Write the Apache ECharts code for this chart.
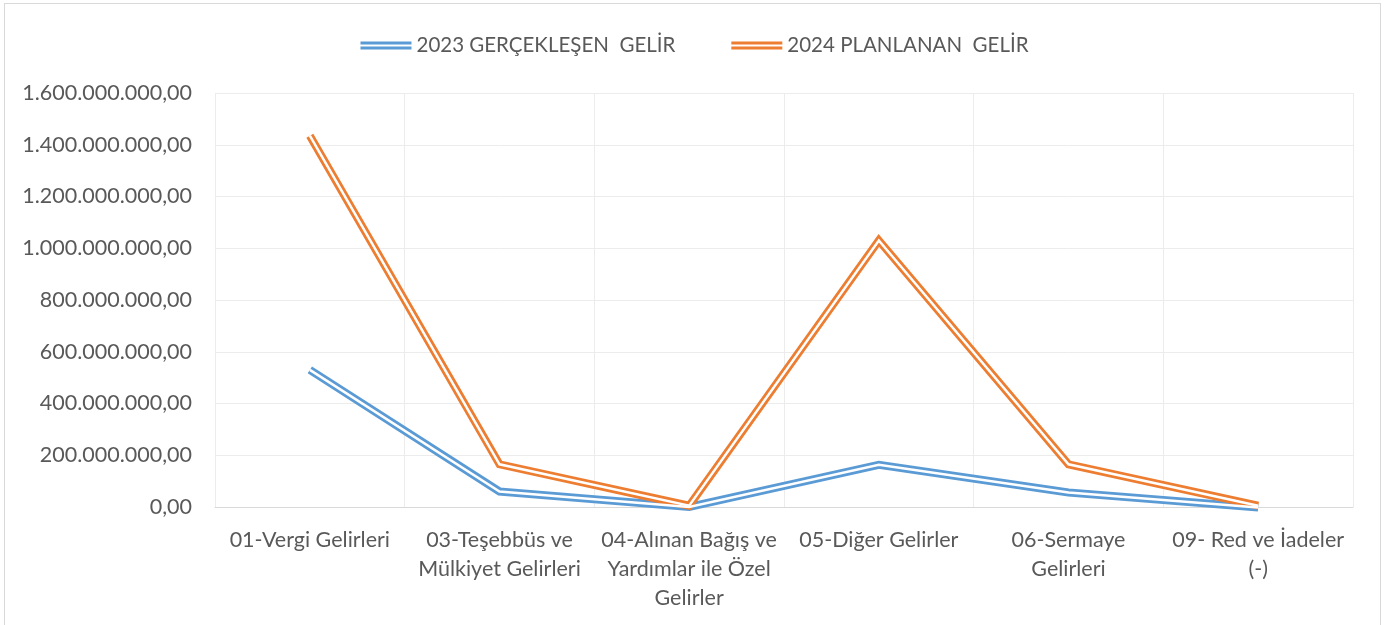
<!DOCTYPE html>
<html>
<head>
<meta charset="utf-8">
<script src="https://cdn.jsdelivr.net/npm/echarts@6/dist/echarts.min.js"></script>
<style>
  html, body { margin: 0; padding: 0; background: #fff; }
  #frame { position: absolute; left: 4px; top: 3px; width: 1377px; height: 640px; border: 1px solid #d9d9d9; box-sizing: border-box; }
  #chart { position: absolute; left: 0; top: 0; width: 1389px; height: 625px; }
</style>
</head>
<body>
<div id="frame"></div>
<div id="chart"></div>
<script>
// categories and the wrapped labels shown under the axis
const categories = [
  '01-Vergi Gelirleri',
  '03-Teşebbüs ve Mülkiyet Gelirleri',
  '04-Alınan Bağış ve Yardımlar ile Özel Gelirler',
  '05-Diğer Gelirler',
  '06-Sermaye Gelirleri',
  '09- Red ve İadeler (-)'
];
const xLabels = [
  '01-Vergi Gelirleri',
  '03-Teşebbüs ve\nMülkiyet Gelirleri',
  '04-Alınan Bağış ve\nYardımlar ile Özel\nGelirler',
  '05-Diğer Gelirler',
  '06-Sermaye\nGelirleri',
  '09- Red ve İadeler\n(-)'
];
const seriesNames = ['2023 GERÇEKLEŞEN  GELİR', '2024 PLANLANAN  GELİR'];
const gelir2023 = [530000000, 60000000, 0, 163000000, 56000000, -2000000];
const gelir2024 = [1435000000, 165000000, 5000000, 1030000000, 165000000, 5000000];
const colors = ['#5b9bd5', '#ed7d31'];

// 1.600.000.000,00 style
function trNumber(v) {
  const s = Math.round(Math.abs(v)).toString().replace(/\B(?=(\d{3})+(?!\d))/g, '.');
  return (v < 0 ? '-' : '') + s + ',00';
}

const font = 'Lato, "Open Sans", sans-serif';
const chart = echarts.init(document.getElementById('chart'));

// excel "double" line: thick coloured line with a thin white line on top
function doubleLine(name, data, color) {
  return [
    {
      name: name,
      type: 'line',
      data: data,
      color: color,
      symbol: 'none',
      clip: false,
      lineStyle: { width: 8, color: color, join: 'miter' },
      z: 2
    },
    {
      name: name + '_inner',
      type: 'line',
      data: data,
      symbol: 'none',
      clip: false,
      silent: true,
      lineStyle: { width: 2.5, color: '#ffffff', join: 'miter' },
      z: 3
    }
  ];
}

let option = {
  animation: false,
  textStyle: { fontFamily: font },
  legend: {
    data: seriesNames,
    top: 30,
    left: 'center',
    itemWidth: 51,
    itemHeight: 8,
    itemGap: 56,
    icon: 'path://M0,0H51V3H0Z M0,5H51V8H0Z',
    textStyle: { fontSize: 20.5, color: '#595959', fontFamily: font }
  },
  grid: {
    left: 215,
    right: 36,
    top: 93,
    bottom: 118,
    containLabel: false
  },
  xAxis: {
    type: 'category',
    data: categories,
    boundaryGap: true,
    axisLine: { lineStyle: { color: '#d9d9d9', width: 1 } },
    axisTick: { show: false },
    splitLine: { show: true, lineStyle: { color: '#ececec', width: 1 } },
    axisLabel: {
      interval: 0,
      margin: 19,
      fontSize: 21.5,
      lineHeight: 29,
      color: '#595959',
      fontFamily: font,
      formatter: function (value, idx) { return xLabels[idx]; }
    }
  },
  yAxis: {
    type: 'value',
    min: 0,
    max: 1600000000,
    interval: 200000000,
    axisLine: { show: false },
    axisTick: { show: false },
    splitLine: { lineStyle: { color: '#ececec', width: 1 } },
    axisLabel: {
      margin: 23,
      fontSize: 21.5,
      color: '#595959',
      fontFamily: font,
      formatter: trNumber
    }
  },
  series: [
    ...doubleLine(seriesNames[0], gelir2023, colors[0]),
    ...doubleLine(seriesNames[1], gelir2024, colors[1])
  ]
};
chart.setOption(option);
</script>
</body>
</html>
